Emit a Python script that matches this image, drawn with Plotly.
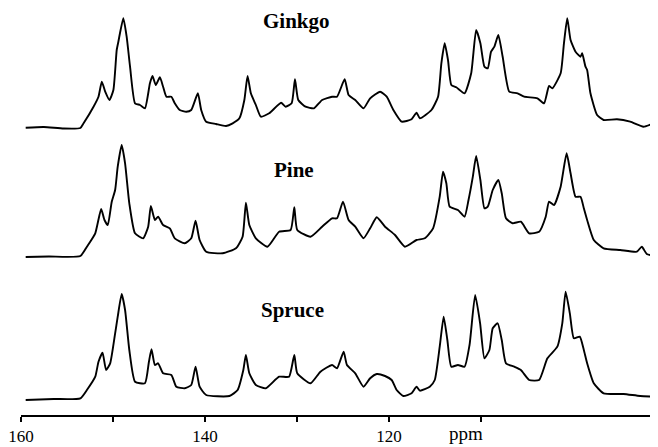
import plotly.graph_objects as go

# ---- data (ppm, intensity in arbitrary units above each trace's baseline) ----
ginkgo_ppm = [159.49, 157.52, 155.36, 153.55, 153.20, 152.12, 151.58, 151.22, 150.85, 150.39,
              149.96, 149.60, 149.42, 148.88, 148.52, 148.15, 147.61, 147.07, 146.53, 145.99,
              145.71, 145.35, 144.91, 144.56, 144.20, 143.66, 143.29, 142.75, 142.04, 141.50,
              140.78, 140.42, 139.88, 138.80, 137.72, 137.00, 136.27, 135.73, 135.38, 135.02,
              134.48, 133.94, 133.03, 131.74, 131.24, 130.59, 130.23, 129.87, 129.08, 128.17,
              127.28, 126.20, 125.66, 124.83, 124.40, 123.68, 122.78, 122.06, 120.98, 120.26,
              119.54, 118.64, 117.56, 117.02, 116.66, 115.40, 114.68, 114.32, 113.96, 113.60,
              113.24, 112.70, 111.80, 111.08, 110.54, 110.08, 109.64, 109.28, 108.92, 108.56,
              108.13, 107.66, 106.94, 106.04, 105.32, 103.88, 103.16, 102.62, 102.26, 101.36,
              101.00, 100.64, 100.28, 99.74, 99.20, 99.02, 98.66, 98.48, 98.12, 97.40,
              96.69, 95.24, 93.80, 92.36, 91.28]
ginkgo_int = [0.3, 1, -0.5, 0, 4.7, 21.3, 31.3, 46.3, 36.3, 28,
              38, 78, 86.3, 109.7, 91.3, 61.3, 24.7, 23, 19.7, 44.7,
              52, 43, 50.7, 41.3, 31.3, 31.3, 24.7, 18, 16.3, 18,
              34.7, 18, 6.3, 4, 2, 4.7, 9.7, 28, 52, 34.7,
              23, 11.3, 14.7, 25.3, 21.3, 24.7, 48.7, 28, 21.3, 19.7,
              28, 31.3, 31.3, 48.7, 33, 28, 19.7, 29.7, 36.3, 31.3,
              18, 6.3, 8.7, 15.3, 9.7, 18, 31.3, 64.7, 84.7, 68,
              43, 40.7, 34.7, 54.7, 98, 84.7, 61.3, 59.7, 76.3, 81.3,
              93, 71.3, 36.3, 34.7, 31.3, 29.7, 24.7, 42, 39.7, 54.7,
              84.7, 109.7, 88, 76.3, 71.3, 74.7, 61.3, 58, 34.7, 13,
              8, 8.7, 6.3, 1.3, 4.7]

pine_ppm = [159.49, 156.98, 153.55, 152.84, 151.93, 151.29, 150.93, 150.57, 150.14, 149.77,
            149.49, 149.06, 148.69, 148.23, 147.61, 146.72, 146.18, 145.89, 145.45, 145.10,
            144.56, 143.83, 143.29, 142.21, 141.50, 141.03, 140.59, 139.88, 138.08, 136.64,
            135.92, 135.56, 135.19, 134.48, 133.22, 131.95, 130.70, 130.30, 129.98, 128.54,
            127.28, 126.20, 125.66, 125.01, 124.40, 123.68, 122.78, 122.06, 121.34, 120.44,
            119.36, 118.28, 117.02, 116.12, 115.22, 114.50, 114.14, 113.78, 113.42, 112.52,
            111.80, 111.37, 110.90, 110.54, 110.08, 109.64, 109.28, 108.74, 108.13, 107.76,
            107.30, 106.58, 105.68, 104.78, 103.70, 102.98, 102.62, 102.08, 101.36, 100.71,
            100.28, 99.74, 99.20, 98.84, 98.48, 97.76, 96.69, 94.88, 93.08, 92.54,
            92.00, 91.10]
pine_int = [0, 0.5, 1, 10.3, 23.7, 48, 37, 32, 55.3, 67,
            90.3, 112, 93.7, 53.7, 23.7, 18.7, 30.3, 51, 37, 40.3,
            32, 28.7, 18.7, 13.7, 18.7, 36.3, 17, 5.3, 3.7, 8.7,
            20.3, 54.3, 32, 18.7, 10.3, 25.3, 27, 49.7, 27, 20.3,
            30.3, 38.7, 38.7, 55.3, 37, 30.3, 18.7, 28.7, 39.7, 30.3,
            22, 10.3, 17, 18.7, 28.7, 60.3, 85.3, 73.7, 50.3, 47,
            40.3, 57, 80.3, 101, 77, 48.7, 50.3, 67, 77, 63.7,
            38.7, 33.7, 35.3, 23.7, 25.3, 40.3, 55.3, 52, 70.3, 103.7,
            83.7, 60.3, 60.3, 48.7, 37, 17, 8.7, 7, 5.3, 10.3,
            3, 1]

spruce_ppm = [159.49, 156.44, 153.55, 152.84, 151.93, 151.58, 151.14, 150.75, 150.31, 149.77,
              149.49, 149.06, 148.69, 148.23, 147.61, 146.53, 146.10, 145.82, 145.45, 145.10,
              144.56, 143.66, 143.12, 142.21, 141.50, 141.03, 140.59, 139.88, 137.35, 136.46,
              135.84, 135.56, 135.19, 134.48, 133.40, 131.95, 130.87, 130.30, 129.98, 128.54,
              127.46, 126.20, 125.66, 124.94, 124.58, 123.68, 122.78, 122.06, 121.34, 120.44,
              119.72, 119.18, 118.46, 117.56, 117.02, 116.66, 115.58, 115.04, 114.50, 114.07,
              113.67, 113.24, 112.52, 111.80, 111.26, 110.65, 110.11, 109.64, 109.10, 108.74,
              108.20, 107.76, 107.30, 106.40, 105.68, 104.78, 103.70, 102.80, 101.72, 101.18,
              100.82, 100.36, 99.92, 99.28, 98.84, 98.48, 97.76, 96.69, 94.53, 92.72,
              91.10]
spruce_int = [0, 1, 1.7, 10, 23.3, 38.3, 47.3, 30, 36.7, 66.7,
              83.3, 106, 90, 50, 18.3, 16.7, 38.3, 50.7, 35, 36.7,
              26.7, 25, 13.3, 11.7, 15, 33.3, 13.3, 5, 4, 10,
              30, 45, 26.7, 15, 11.7, 23.3, 23.3, 45, 26.7, 16.7,
              28.3, 35, 31.7, 48.3, 35, 26.7, 13.3, 21.7, 26, 24,
              20, 10, 4, 6.7, 13.3, 9.3, 13.3, 20, 53.3, 83.3,
              60, 33.3, 35, 33.3, 55, 105, 76.7, 41.7, 50, 71.7,
              76.7, 60, 36.7, 33.3, 30, 20, 20, 41.7, 53.3, 76.7,
              108.3, 86.7, 61.7, 63.3, 50, 36.7, 16.7, 6.7, 6, 4,
              3.3]

names = ["Ginkgo", "Pine", "Spruce"]
tick_vals = [160, 150, 140, 130, 120, 110]
tick_text = ["160", "", "140", "", "120", ""]

# ---- layout constants (vertical stacking offsets, label spots) ----
offsets = [287, 158, 15]
label_pos = [(130.09, 394), (130.30, 245), (130.52, 105)]

fig = go.Figure()
series = [(ginkgo_ppm, ginkgo_int), (pine_ppm, pine_int), (spruce_ppm, spruce_int)]
for (xs, ys), off, name in zip(series, offsets, names):
    fig.add_trace(go.Scatter(x=xs, y=[v + off for v in ys], mode="lines", name=name,
                             line=dict(color="black", width=1.9, shape="spline", smoothing=0.5),
                             showlegend=False, hoverinfo="skip"))

for name, (lx, ly) in zip(names, label_pos):
    fig.add_annotation(x=lx, y=ly, text="<b>" + name + "</b>", showarrow=False,
                       font=dict(family="Liberation Serif", size=21, color="black"),
                       xanchor="center", yanchor="middle")

fig.add_annotation(x=111.6, y=0, yref="paper", text="ppm", showarrow=False,
                   font=dict(family="Liberation Serif", size=19, color="black"),
                   xanchor="center", yanchor="top", yshift=-6)

fig.update_layout(
    width=658, height=447,
    margin=dict(l=9, r=8, t=0, b=40),
    paper_bgcolor="white", plot_bgcolor="white",
    xaxis=dict(range=[160, 90.78], showgrid=False, zeroline=False, showline=True,
               linecolor="black", linewidth=1.5, ticks="outside", ticklen=5,
               tickwidth=1.5, tickcolor="black", tickvals=tick_vals, ticktext=tick_text,
               ticklabeloverflow="allow",
               tickfont=dict(family="Liberation Serif", size=17, color="black")),
    yaxis=dict(range=[0, 407], visible=False, fixedrange=True),
)

fig.write_html("out.html")
